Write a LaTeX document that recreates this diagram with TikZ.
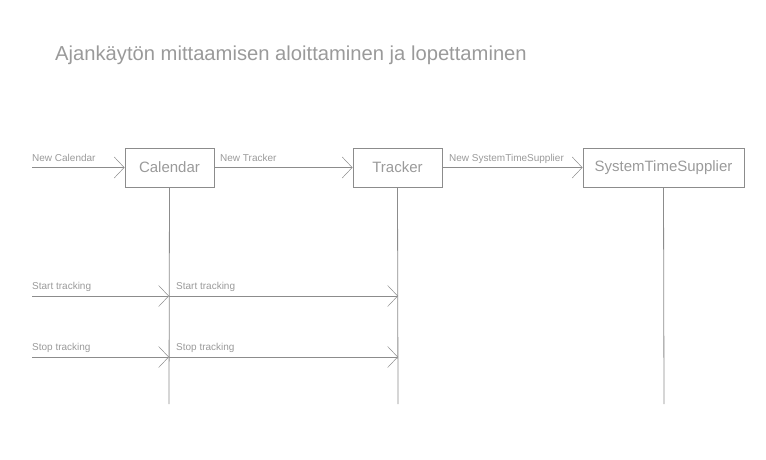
\documentclass[tikz,border=0pt]{standalone}
\usepackage{fontspec}
\setmainfont{Liberation Sans}
\usetikzlibrary{arrows.meta}
\definecolor{linegray}{HTML}{8C8C8C}
\definecolor{textgray}{HTML}{9A9A9A}
\begin{document}
\begin{tikzpicture}[x=1pt,y=-1pt,
  obj/.style={draw=linegray, line width=0.9pt, minimum height=39pt, inner sep=0pt, text=textgray, font=\fontsize{15}{17}\selectfont},
  msg/.style={draw=linegray, line width=0.8pt, -{Straight Barb[length=10pt,width=21pt,line width=0.5pt]}},
  life/.style={draw=linegray, line width=0.8pt},
  lbl/.style={anchor=base west, inner sep=0pt, text=textgray, font=\fontsize{10}{12}\selectfont}]
\useasboundingbox (0,0) rectangle (766,460);
\node[anchor=base west, inner sep=0pt, text=textgray, font=\fontsize{20.2}{24}\selectfont] (title) at (55,60) {Ajankäytön mittaamisen aloittaminen ja lopettaminen};

\node[obj, minimum width=89pt] (cal) at (169.5,167.5) {Calendar};
\node[obj, minimum width=89pt] (trk) at (397.5,167.5) {Tracker};
\node[obj, minimum width=161pt] (sts) at (663.5,167.5) {SystemTimeSupplier};

\coordinate (calEnd) at (169,404);
\coordinate (trkEnd) at (398,404);
\coordinate (stsEnd) at (664,404);
\draw[life] (cal.south) -- (calEnd);
\draw[life] (trk.south) -- (trkEnd);
\draw[life] (sts.south) -- (stsEnd);

\coordinate (in1) at (32,167.5);
\draw[msg] (in1) -- (cal.west);
\draw[msg] (cal.east) -- (trk.west);
\draw[msg] (trk.east) -- (sts.west);
\node[lbl] (l1) at (32,161) {New Calendar};
\node[lbl] (l2) at (220,161) {New Tracker};
\node[lbl] (l3) at (449,161) {New SystemTimeSupplier};

\coordinate (in2) at (32,296);
\coordinate (cal2) at (169,296);
\coordinate (trk2) at (398,296);
\draw[msg] (in2) -- (cal2);
\draw[msg] (cal2) -- (trk2);
\node[lbl] (l4) at (32,289) {Start tracking};
\node[lbl] (l5) at (176,289) {Start tracking};

\coordinate (in3) at (32,357);
\coordinate (cal3) at (169,357);
\coordinate (trk3) at (398,357);
\draw[msg] (in3) -- (cal3);
\draw[msg] (cal3) -- (trk3);
\node[lbl] (l6) at (32,350) {Stop tracking};
\node[lbl] (l7) at (176,350) {Stop tracking};
\end{tikzpicture}
\end{document}
